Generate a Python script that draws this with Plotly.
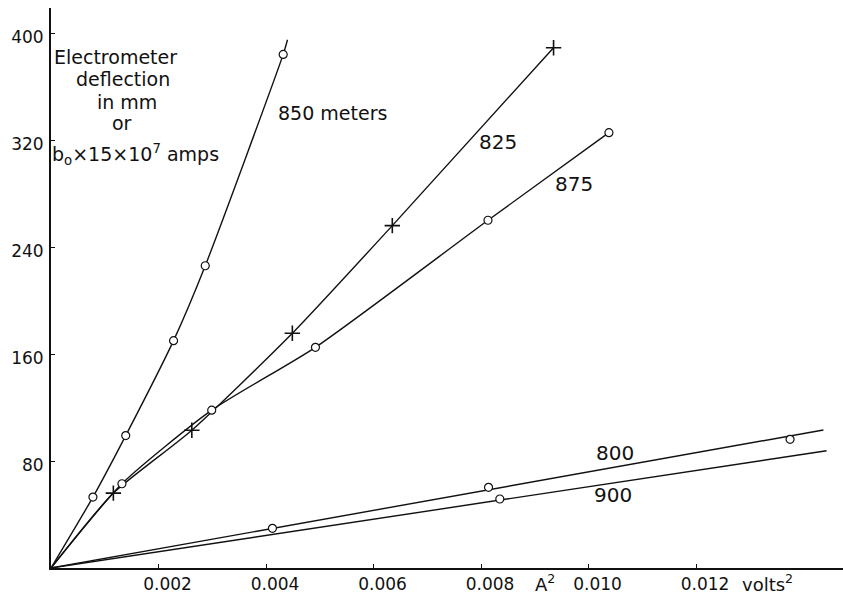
import plotly.graph_objects as go

# ---- data ----
x_ticks = [0.002, 0.004, 0.006, 0.008, 0.010, 0.012]
x_tick_labels = ["0.002", "0.004", "0.006", "0.008", "0.010", "0.012"]
y_ticks = [80, 160, 240, 320, 400]
y_tick_labels = ["80", "160", "240", "320", "400"]

# 850 meters (open circles)
pts_850_x = [0.00078, 0.00139, 0.00228, 0.00287, 0.00432]
pts_850_y = [53, 99, 170, 226, 384]
curve_850_x = [0, 0.00078, 0.00139, 0.00228, 0.00287, 0.00432, 0.00440]
curve_850_y = [0, 53, 99, 170, 226, 384, 395]

# 825 meters (crosses)
pts_825_x = [0.00116, 0.00262, 0.00449, 0.00635, 0.00935]
pts_825_y = [56, 103, 175.5, 256, 389]
curve_825_x = [0, 0.00116, 0.00262, 0.00449, 0.00635, 0.00935]
curve_825_y = [0, 56, 103, 175.5, 256, 389]

# 875 meters (open circles)
pts_875_x = [0.00132, 0.00299, 0.00492, 0.00813, 0.01038]
pts_875_y = [63, 118, 165, 260, 325.5]
curve_875_x = [0, 0.00132, 0.00299, 0.00492, 0.00813, 0.01038]
curve_875_y = [0, 63, 118, 165, 260, 325.5]

# 800 meters (open circles)
pts_800_x = [0.00412, 0.00814, 0.01375]
pts_800_y = [29.7, 60.3, 96.2]
curve_800_x = [0, 0.01437]
curve_800_y = [0, 103.2]

# 900 meters (open circles)
pts_900_x = [0.00835]
pts_900_y = [51.6]
curve_900_x = [0, 0.01443]
curve_900_y = [0, 87.7]

# ---- layout geometry (pixels) ----
W, H = 843, 596
L, R, T, B = 51, 843, 8, 568
FONT = "DejaVu Sans"
INK = "#111111"


def px(x, y):
    return (x - L) / (R - L), (B - y) / (B - T)


fig = go.Figure()

curves = [
    (curve_850_x, curve_850_y, "spline"),
    (curve_825_x, curve_825_y, "spline"),
    (curve_875_x, curve_875_y, "spline"),
    (curve_800_x, curve_800_y, "linear"),
    (curve_900_x, curve_900_y, "linear"),
]
for cx, cy, shape in curves:
    fig.add_trace(go.Scatter(
        x=cx, y=cy, mode="lines",
        line=dict(color=INK, width=1.4, shape=shape, smoothing=0.6),
        hoverinfo="skip", showlegend=False))

circle = dict(symbol="circle", size=8, color="white", line=dict(color=INK, width=1.2))
cross = dict(symbol="cross-thin", size=11, color=INK, line=dict(color=INK, width=1.6))

for mx, my, mk in [
    (pts_850_x, pts_850_y, circle),
    (pts_875_x, pts_875_y, circle),
    (pts_800_x, pts_800_y, circle),
    (pts_900_x, pts_900_y, circle),
    (pts_825_x, pts_825_y, cross),
]:
    fig.add_trace(go.Scatter(x=mx, y=my, mode="markers", marker=mk,
                             showlegend=False))

x_max = (R - L) / 53750.0
y_max = (B - T) / 1.3375

fig.update_xaxes(
    range=[0, x_max], showgrid=False, zeroline=False,
    showline=True, linecolor=INK, linewidth=1.6,
    ticks="inside", ticklen=4, tickwidth=1.2, tickcolor=INK,
    tickvals=x_ticks, ticktext=x_tick_labels,
    ticklabelshift=9, automargin=False,
    tickfont=dict(family=FONT, size=17, color=INK),
)
fig.update_yaxes(
    range=[0, y_max], showgrid=False, zeroline=False,
    showline=True, linecolor=INK, linewidth=1.8,
    ticks="inside", ticklen=4, tickwidth=1.2, tickcolor=INK,
    tickvals=y_ticks, ticktext=y_tick_labels,
    ticklabelshift=4, ticklabelstandoff=2, automargin=False,
    tickfont=dict(family=FONT, size=17, color=INK),
)

texts = [
    ("Electrometer", 115, 57, 19),
    ("deflection", 123, 79, 19),
    ("in mm", 127, 102, 19),
    ("or", 122, 123, 19),
    ("b<sub>o</sub>×15×10<sup>7</sup> amps", 135, 155, 19),
    ("850 meters", 332, 113, 19),
    ("825", 498, 142, 20),
    ("875", 574, 184, 20),
    ("800", 615, 453, 20),
    ("900", 613, 495, 20),
    ("A<sup>2</sup>", 545, 583, 18),
    ("volts<sup>2</sup>", 767, 583, 18),
]
for t, x, y, s in texts:
    ax, ay = px(x, y)
    fig.add_annotation(text=t, x=ax, y=ay, xref="paper", yref="paper",
                       xanchor="center", yanchor="middle", showarrow=False,
                       font=dict(family=FONT, size=s, color=INK))

fig.update_layout(
    width=W, height=H,
    margin=dict(l=L, r=W - R, t=T, b=H - B, pad=0),
    paper_bgcolor="white", plot_bgcolor="white",
    font=dict(family=FONT, color=INK),
)

fig.write_html(
    "out.html",
    config={"displayModeBar": False},
    post_script="document.body.style.margin='0';document.body.style.padding='0';",
)
